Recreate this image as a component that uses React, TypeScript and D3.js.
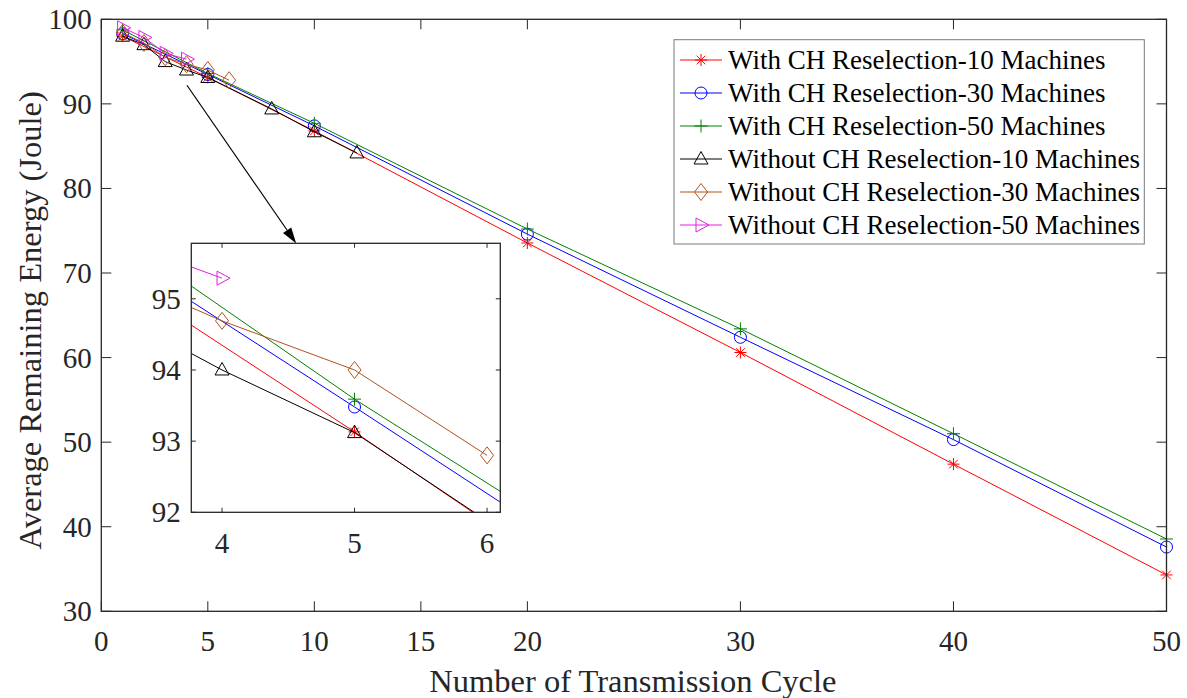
import React from "react";
import * as d3 from "d3";

// ---------- data ----------
const withX = [1, 5, 10, 20, 30, 40, 50];
const with10 = [98.0, 93.13, 86.8, 73.55, 60.6, 47.4, 34.3];
const with30 = [98.3, 93.48, 87.4, 74.6, 62.4, 50.3, 37.6];
const with50 = [98.75, 93.59, 87.7, 75.2, 63.4, 51.0, 38.55];

const without10X = [1, 2, 3, 4, 5, 8, 10, 12];
const without10 = [98.0, 97.0, 95.0, 94.0, 93.12, 89.4, 86.7, 84.2];
const without30X = [1, 2, 3, 4, 5, 6];
const without30 = [98.4, 97.2, 95.5, 94.69, 94.0, 92.8];
const without50X = [1, 2, 3, 4];
const without50 = [99.0, 97.85, 95.97, 95.29];

const seriesNames = [
  "With CH Reselection-10 Machines",
  "With CH Reselection-30 Machines",
  "With CH Reselection-50 Machines",
  "Without CH Reselection-10 Machines",
  "Without CH Reselection-30 Machines",
  "Without CH Reselection-50 Machines",
];
const seriesColors = ["#FF0000", "#0000FF", "#008000", "#000000", "#B0521E", "#E020E0"];
const seriesMarkers = ["star", "circle", "plus", "triUp", "diamond", "triRight"];
const seriesX = [withX, withX, withX, without10X, without30X, without50X];
const seriesY = [with10, with30, with50, without10, without30, without50];

const xTicksMain = [0, 5, 10, 15, 20, 30, 40, 50];
const yTicksMain = [30, 40, 50, 60, 70, 80, 90, 100];
const xTicksInset = [4, 5, 6];
const yTicksInset = [92, 93, 94, 95];

// arrow annotation in data coordinates of main axes: [x1, y1, x2, y2]
const arrowData = [4.02, 92.2, 9.15, 73.5];

const FONT = "'Liberation Serif', 'Times New Roman', Times, serif";

function Marker({ type, x, y, color }: { type: string; x: number; y: number; color: string }) {
  const sw = 1;
  if (type === "star") {
    const s = 6;
    const d = s * 0.72;
    return (
      <path
        d={`M${x - s},${y}L${x + s},${y}M${x},${y - s}L${x},${y + s}M${x - d},${y - d}L${x + d},${y + d}M${x - d},${y + d}L${x + d},${y - d}`}
        stroke={color}
        strokeWidth={sw}
        fill="none"
      />
    );
  }
  if (type === "circle") return <circle cx={x} cy={y} r={6} stroke={color} strokeWidth={sw} fill="none" />;
  if (type === "plus") {
    const s = 6.5;
    return <path d={`M${x - s},${y}L${x + s},${y}M${x},${y - s}L${x},${y + s}`} stroke={color} strokeWidth={sw} fill="none" />;
  }
  if (type === "triUp") {
    return (
      <path d={`M${x},${y - 7.5}L${x + 7},${y + 5}L${x - 7},${y + 5}Z`} stroke={color} strokeWidth={sw} fill="none" />
    );
  }
  if (type === "diamond") {
    return (
      <path d={`M${x},${y - 8.5}L${x + 6.5},${y}L${x},${y + 8.5}L${x - 6.5},${y}Z`} stroke={color} strokeWidth={sw} fill="none" />
    );
  }
  // triRight
  return <path d={`M${x + 8},${y}L${x - 5},${y - 7}L${x - 5},${y + 7}Z`} stroke={color} strokeWidth={sw} fill="none" />;
}

export default function App() {
  const W = 1187;
  const H = 698;
  const mL = 101.3, mR = 1166.5, mT = 19.3, mB = 611.3;
  const x = d3.scaleLinear().domain([0, 50]).range([mL, mR]);
  const y = d3.scaleLinear().domain([30, 100]).range([mB, mT]);

  const iL = 191.3, iR = 500.3, iT = 243.3, iB = 512.3;
  const xi = d3.scaleLinear().domain([3.768, 6.1]).range([iL, iR]);
  const yi = d3.scaleLinear().domain([92, 95.78]).range([iB, iT]);

  const lineMain = d3
    .line<[number, number]>()
    .x((d) => x(d[0]))
    .y((d) => y(d[1]));
  const lineInset = d3
    .line<[number, number]>()
    .x((d) => xi(d[0]))
    .y((d) => yi(d[1]));

  const pts = seriesX.map((xs, i) => xs.map((v, j) => [v, seriesY[i][j]] as [number, number]));

  const axisColor = "#262626";
  const tickLen = 10;
  const tickLenIn = 4.5;

  // legend layout
  const lgL = 674, lgT = 39.7, lgR = 1144.3, lgB = 244;
  const rowY = d3.range(6).map((i) => 60 + i * 33);

  const ax1 = x(arrowData[0]), ay1 = y(arrowData[1]), ax2 = x(arrowData[2]), ay2 = y(arrowData[3]);
  const ang = Math.atan2(ay2 - ay1, ax2 - ax1);
  const hl = 16, hw = 5;
  const bx = ax2 - hl * Math.cos(ang), by = ay2 - hl * Math.sin(ang);
  const headPts = [
    [ax2, ay2],
    [bx + hw * Math.sin(ang), by - hw * Math.cos(ang)],
    [bx - hw * Math.sin(ang), by + hw * Math.cos(ang)],
  ];

  return (
    <svg width={W} height={H} style={{ position: "absolute", left: 0, top: 0, background: "#fff" }} fontFamily={FONT}>
      <rect x={0} y={0} width={W} height={H} fill="#fff" />
      <defs>
        <clipPath id="insetClip">
          <rect x={iL} y={iT} width={iR - iL} height={iB - iT} />
        </clipPath>
      </defs>

      {/* main series */}
      <g>
        {pts.map((p, i) => (
          <g key={i}>
            <path d={lineMain(p) || ""} fill="none" stroke={seriesColors[i]} strokeWidth={1} />
            {p.map((d, j) => (
              <Marker key={j} type={seriesMarkers[i]} x={x(d[0])} y={y(d[1])} color={seriesColors[i]} />
            ))}
          </g>
        ))}
      </g>

      {/* main axes box */}
      <rect x={mL} y={mT} width={mR - mL} height={mB - mT} fill="none" stroke={axisColor} strokeWidth={1.3} />
      {xTicksMain.map((t) => (
        <g key={"xt" + t}>
          <line x1={x(t)} x2={x(t)} y1={mB} y2={mB - tickLen} stroke={axisColor} strokeWidth={1} />
          <line x1={x(t)} x2={x(t)} y1={mT} y2={mT + tickLen} stroke={axisColor} strokeWidth={1} />
          <text x={x(t)} y={mB + 40} textAnchor="middle" fontSize={29} fill="#262626">
            {t}
          </text>
        </g>
      ))}
      {yTicksMain.map((t) => (
        <g key={"yt" + t}>
          <line x1={mL} x2={mL + tickLen} y1={y(t)} y2={y(t)} stroke={axisColor} strokeWidth={1} />
          <line x1={mR} x2={mR - tickLen} y1={y(t)} y2={y(t)} stroke={axisColor} strokeWidth={1} />
          <text x={mL - 9.5} y={y(t) + 10} textAnchor="end" fontSize={29} fill="#262626">
            {t}
          </text>
        </g>
      ))}
      <text x={(mL + mR) / 2 - 1} y={692} textAnchor="middle" fontSize={32.5} fill="#262626">
        Number of Transmission Cycle
      </text>
      <text
        transform={`translate(41,${(mT + mB) / 2 + 5}) rotate(-90)`}
        textAnchor="middle"
        fontSize={32.5}
        fill="#262626"
      >
        Average Remaining Energy (Joule)
      </text>

      {/* arrow */}
      <line x1={ax1} y1={ay1} x2={bx} y2={by} stroke="#000" strokeWidth={1.2} />
      <path d={`M${headPts.map((p) => p.join(",")).join("L")}Z`} fill="#000" />

      {/* inset */}
      <rect x={iL} y={iT} width={iR - iL} height={iB - iT} fill="#fff" />
      <g clipPath="url(#insetClip)">
        {pts.map((p, i) => (
          <g key={i}>
            <path d={lineInset(p) || ""} fill="none" stroke={seriesColors[i]} strokeWidth={1} />
            {p.map((d, j) => (
              <Marker key={j} type={seriesMarkers[i]} x={xi(d[0])} y={yi(d[1])} color={seriesColors[i]} />
            ))}
          </g>
        ))}
      </g>
      <rect x={iL} y={iT} width={iR - iL} height={iB - iT} fill="none" stroke={axisColor} strokeWidth={1.3} />
      {xTicksInset.map((t) => (
        <g key={"xi" + t}>
          <line x1={xi(t)} x2={xi(t)} y1={iB} y2={iB - tickLenIn} stroke={axisColor} strokeWidth={1} />
          <line x1={xi(t)} x2={xi(t)} y1={iT} y2={iT + tickLenIn} stroke={axisColor} strokeWidth={1} />
          <text x={xi(t)} y={iB + 41} textAnchor="middle" fontSize={29} fill="#262626">
            {t}
          </text>
        </g>
      ))}
      {yTicksInset.map((t) => (
        <g key={"yi" + t}>
          <line x1={iL} x2={iL + tickLenIn} y1={yi(t)} y2={yi(t)} stroke={axisColor} strokeWidth={1} />
          <line x1={iR} x2={iR - tickLenIn} y1={yi(t)} y2={yi(t)} stroke={axisColor} strokeWidth={1} />
          <text x={iL - 10.5} y={yi(t) + 10} textAnchor="end" fontSize={29} fill="#262626">
            {t}
          </text>
        </g>
      ))}

      {/* legend */}
      <rect x={lgL} y={lgT} width={lgR - lgL} height={lgB - lgT} fill="#fff" stroke="#7a7a7a" strokeWidth={1} />
      {seriesNames.map((n, i) => (
        <g key={"lg" + i}>
          <line x1={680} x2={722} y1={rowY[i]} y2={rowY[i]} stroke={seriesColors[i]} strokeWidth={1} />
          <Marker type={seriesMarkers[i]} x={701} y={rowY[i]} color={seriesColors[i]} />
          <text x={728} y={rowY[i] + 9} fontSize={27} fill="#000">
            {n}
          </text>
        </g>
      ))}
    </svg>
  );
}
